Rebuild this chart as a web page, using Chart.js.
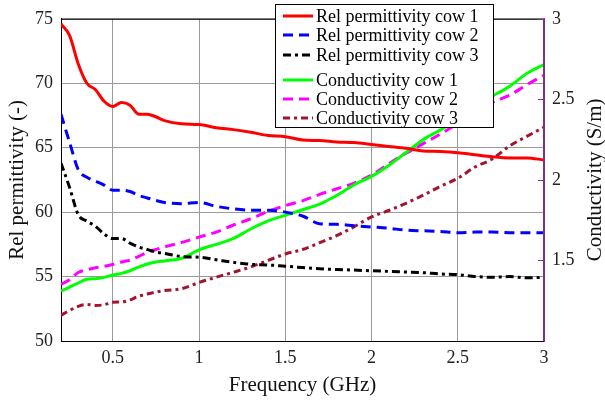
<!DOCTYPE html>
<html>
<head>
<meta charset="utf-8">
<script src="https://cdn.jsdelivr.net/npm/chart.js@4.4.1/dist/chart.umd.min.js"></script>
<style>
  body { margin: 0; background: #fff; }
  canvas { display: block; }
</style>
</head>
<body>
<canvas id="chart" width="605" height="402"></canvas>
<script>
// frequency points (GHz)
const freq = [0.2, 0.25, 0.3, 0.35, 0.4, 0.45, 0.5, 0.55, 0.6, 0.65, 0.7, 0.75, 0.8, 0.9, 1.0,
  1.1, 1.2, 1.3, 1.4, 1.5, 1.6, 1.7, 1.8, 1.9, 2.0, 2.1, 2.2, 2.3, 2.4, 2.5, 2.6, 2.7, 2.8, 2.9, 3.0];

// relative permittivity (left axis)
const permCow1 = [74.6, 73.7, 71.5, 70.0, 69.5, 68.6, 68.2, 68.5, 68.3, 67.6, 67.6, 67.4, 67.1, 66.85, 66.8,
  66.55, 66.4, 66.2, 65.95, 65.85, 65.6, 65.55, 65.45, 65.4, 65.25, 65.1, 64.95, 64.75, 64.7, 64.6, 64.45, 64.3, 64.2, 64.2, 64.05];
const permCow2 = [67.6, 65.4, 63.3, 62.7, 62.4, 62.1, 61.7, 61.7, 61.6, 61.3, 61.1, 60.9, 60.75, 60.65, 60.75,
  60.45, 60.25, 60.15, 60.15, 60.0, 59.7, 59.1, 59.05, 58.95, 58.85, 58.75, 58.6, 58.55, 58.5, 58.4, 58.45, 58.45, 58.4, 58.4, 58.4];
const permCow3 = [63.8, 61.9, 59.8, 59.3, 58.9, 58.3, 57.95, 57.95, 57.6, 57.3, 57.1, 56.9, 56.8, 56.55, 56.5,
  56.3, 56.1, 55.95, 55.9, 55.8, 55.7, 55.6, 55.55, 55.5, 55.45, 55.4, 55.35, 55.3, 55.2, 55.15, 55.0, 54.95, 55.0, 54.9, 54.95];

// conductivity S/m (right axis)
const condCow1 = [1.31, 1.335, 1.36, 1.383, 1.387, 1.395, 1.41, 1.42, 1.436, 1.458, 1.478, 1.49, 1.497, 1.513, 1.566,
  1.60, 1.637, 1.695, 1.745, 1.78, 1.815, 1.85, 1.905, 1.97, 2.022, 2.09, 2.17, 2.25, 2.31, 2.38, 2.46, 2.52, 2.58, 2.66, 2.716];
const condCow2 = [1.353, 1.38, 1.425, 1.442, 1.455, 1.463, 1.475, 1.49, 1.502, 1.525, 1.55, 1.568, 1.584, 1.612, 1.645,
  1.676, 1.72, 1.759, 1.805, 1.84, 1.87, 1.91, 1.945, 1.98, 2.03, 2.10, 2.165, 2.225, 2.285, 2.35, 2.415, 2.48, 2.525, 2.59, 2.65];
const condCow3 = [1.16, 1.19, 1.215, 1.227, 1.221, 1.225, 1.241, 1.242, 1.255, 1.278, 1.292, 1.304, 1.313, 1.325, 1.363,
  1.396, 1.427, 1.46, 1.50, 1.54, 1.568, 1.61, 1.655, 1.71, 1.77, 1.81, 1.855, 1.905, 1.96, 2.01, 2.08, 2.13, 2.21, 2.27, 2.327];

const xTickVals = [0.5, 1, 1.5, 2, 2.5, 3];
const leftTickVals = [50, 55, 60, 65, 70, 75];
const rightTickVals = [1.5, 2, 2.5, 3];
const seriesNames = ['Rel permittivity cow 1', 'Rel permittivity cow 2', 'Rel permittivity cow 3',
  'Conductivity cow 1', 'Conductivity cow 2', 'Conductivity cow 3'];

const FONT = '"Liberation Serif", "Times New Roman", serif';
const PURPLE = '#7E2F8E';

const styles = [
  { color: '#ff0000', dash: [] },
  { color: '#0000ff', dash: [10, 6] },
  { color: '#000000', dash: [8, 4, 3, 4] },
  { color: '#00ff00', dash: [] },
  { color: '#ff00ff', dash: [10, 6] },
  { color: '#a2142f', dash: [7, 4, 3, 4] }
];

function pairs(vals) {
  return freq.map((f, i) => ({ x: f, y: vals[i] }));
}

const allSeries = [permCow1, permCow2, permCow3, condCow1, condCow2, condCow3];
const datasets = allSeries.map((vals, i) => ({
  label: seriesNames[i],
  data: pairs(vals),
  yAxisID: i < 3 ? 'y' : 'y1',
  borderColor: styles[i].color,
  borderDash: styles[i].dash,
  borderWidth: 3,
  pointRadius: 0,
  fill: false,
  cubicInterpolationMode: 'monotone'
}));

// top border, inward ticks on the right axis, right title (bottom-up) and the boxed legend
const framePlugin = {
  id: 'frame',
  afterDraw(chart) {
    const ctx = chart.ctx;
    const a = chart.chartArea;
    ctx.save();
    ctx.strokeStyle = '#000';
    ctx.lineWidth = 1;
    ctx.beginPath();
    ctx.moveTo(a.left, a.top + 0.5);
    ctx.lineTo(a.right, a.top + 0.5);
    ctx.stroke();

    ctx.strokeStyle = PURPLE;
    ctx.beginPath();
    ctx.moveTo(a.right - 0.5, a.top);
    ctx.lineTo(a.right - 0.5, a.bottom);
    rightTickVals.forEach(v => {
      const py = Math.round(chart.scales.y1.getPixelForValue(v)) + 0.5;
      ctx.moveTo(a.right - 6, py);
      ctx.lineTo(a.right, py);
    });
    ctx.stroke();

    // right axis title, reading bottom to top
    ctx.save();
    ctx.translate(595, (a.top + a.bottom) / 2);
    ctx.rotate(-Math.PI / 2);
    ctx.font = '21px ' + FONT;
    ctx.fillStyle = '#111';
    ctx.textAlign = 'center';
    ctx.textBaseline = 'middle';
    ctx.fillText('Conductivity (S/m)', 0, 0);
    ctx.restore();

    // legend
    const lx = 275, ly = 4, lw = 218, lh = 123;
    ctx.fillStyle = '#fff';
    ctx.fillRect(lx, ly, lw, lh);
    ctx.strokeStyle = '#000';
    ctx.lineWidth = 1;
    ctx.strokeRect(lx + 0.5, ly + 0.5, lw, lh);
    const rowY = [16, 35, 55, 80, 99, 118];
    ctx.font = '18px ' + FONT;
    ctx.textBaseline = 'middle';
    seriesNames.forEach((name, i) => {
      ctx.strokeStyle = styles[i].color;
      ctx.lineWidth = 3;
      ctx.setLineDash(styles[i].dash);
      ctx.beginPath();
      ctx.moveTo(283, rowY[i]);
      ctx.lineTo(313, rowY[i]);
      ctx.stroke();
      ctx.setLineDash([]);
      ctx.fillStyle = '#000';
      ctx.fillText(name, 316, rowY[i] + 1);
    });
    ctx.restore();
  }
};

new Chart(document.getElementById('chart'), {
  type: 'line',
  data: { datasets: datasets },
  options: {
    responsive: false,
    animation: false,
    layout: { padding: { top: 13, left: 0, right: 0, bottom: 0 } },
    plugins: { legend: { display: false }, tooltip: { enabled: false } },
    scales: {
      x: {
        type: 'linear',
        min: 0.2,
        max: 3,
        afterBuildTicks: s => { s.ticks = xTickVals.map(v => ({ value: v })); },
        afterFit: s => { s.height = 61; },
        ticks: { color: '#222', font: { family: FONT, size: 18 }, padding: 6, maxRotation: 0,
          callback: v => String(v) },
        grid: { color: '#9a9a9a', lineWidth: 1, drawTicks: false },
        border: { color: '#000', width: 1 },
        title: { display: true, text: 'Frequency (GHz)', color: '#111',
          font: { family: FONT, size: 21 }, padding: { top: 4, bottom: 4 } }
      },
      y: {
        position: 'left',
        min: 50,
        max: 75,
        afterBuildTicks: s => { s.ticks = leftTickVals.map(v => ({ value: v })); },
        afterFit: s => { s.width = 61; },
        ticks: { color: '#222', font: { family: FONT, size: 18 }, padding: 8 },
        grid: { color: '#9a9a9a', lineWidth: 1, drawTicks: false },
        border: { color: '#000', width: 1 },
        title: { display: true, text: 'Rel permittivity (-)', color: '#111',
          font: { family: FONT, size: 21 }, padding: { top: 5, bottom: 0 } }
      },
      y1: {
        position: 'right',
        min: 1,
        max: 3,
        afterBuildTicks: s => { s.ticks = rightTickVals.map(v => ({ value: v })); },
        afterFit: s => { s.width = 61; },
        ticks: { color: '#222', font: { family: FONT, size: 18 }, padding: 8,
          callback: v => String(v) },
        grid: { drawOnChartArea: false, drawTicks: false },
        border: { color: PURPLE, width: 1 }
      }
    }
  },
  plugins: [framePlugin]
});
</script>
</body>
</html>
